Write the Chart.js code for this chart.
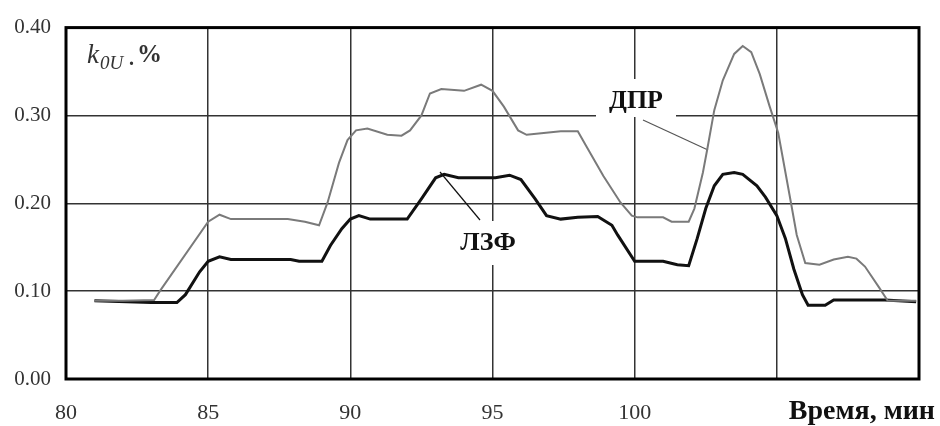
<!DOCTYPE html>
<html>
<head>
<meta charset="utf-8">
<script src="https://cdn.jsdelivr.net/npm/chart.js@4.4.1/dist/chart.umd.min.js"></script>
<style>
  html, body { margin: 0; padding: 0; background: #fff; }
  #wrap { position: relative; width: 940px; height: 426px; }
</style>
</head>
<body>
<div id="wrap"><canvas id="chart" width="940" height="426"></canvas></div>
<script>
// Time axis ticks (min)
const timeTicks = [80, 85, 90, 95, 100, 105, 110];
const valueTicks = [0, 0.1, 0.2, 0.3, 0.4];

// ДПР series (grey)
const dprTime = [81.0, 82.0, 83.1, 83.3, 85.0, 85.4, 85.8, 87.8, 88.4, 88.9, 89.2, 89.6, 89.9, 90.2, 90.6,
  91.3, 91.8, 92.1, 92.5, 92.8, 93.2, 94.0, 94.6, 95.0, 95.4, 95.9, 96.2, 96.8, 97.4, 98.0, 98.3, 98.9,
  99.5, 99.9, 100.1, 101.0, 101.3, 101.9, 102.1, 102.4, 102.55, 102.8, 103.1, 103.5, 103.8, 104.1, 104.4,
  104.75, 105.05, 105.5, 105.7, 106.0, 106.5, 107.0, 107.5, 107.8, 108.1, 108.6, 108.9, 109.9];
const dprValue = [0.089, 0.089, 0.090, 0.100, 0.179, 0.187, 0.182, 0.182, 0.179, 0.175, 0.201, 0.246, 0.272, 0.283, 0.285,
  0.278, 0.277, 0.283, 0.300, 0.325, 0.330, 0.328, 0.335, 0.328, 0.310, 0.283, 0.278, 0.280, 0.282, 0.282, 0.265, 0.231,
  0.201, 0.186, 0.184, 0.184, 0.179, 0.179, 0.194, 0.235, 0.261, 0.306, 0.340, 0.370, 0.379, 0.372, 0.347,
  0.310, 0.280, 0.200, 0.164, 0.132, 0.130, 0.136, 0.139, 0.137, 0.128, 0.104, 0.089, 0.089];

// ЛЗФ series (black)
const lzfTime = [81.0, 83.0, 83.9, 84.2, 84.7, 85.0, 85.4, 85.8, 87.9, 88.2, 89.0, 89.3, 89.7, 90.0, 90.3,
  90.7, 92.0, 92.5, 93.0, 93.3, 93.8, 95.1, 95.6, 96.0, 96.5, 96.9, 97.4, 98.0, 98.7, 99.2, 99.4, 100.0,
  101.0, 101.5, 101.9, 102.2, 102.5, 102.8, 103.1, 103.5, 103.8, 104.3, 104.6, 105.0, 105.3, 105.6, 105.9,
  106.1, 106.7, 107.0, 108.8, 109.9];
const lzfValue = [0.089, 0.087, 0.087, 0.096, 0.122, 0.134, 0.139, 0.136, 0.136, 0.134, 0.134, 0.152, 0.171, 0.182, 0.186,
  0.182, 0.182, 0.205, 0.229, 0.233, 0.229, 0.229, 0.232, 0.227, 0.205, 0.186, 0.182, 0.184, 0.185, 0.175, 0.164, 0.134,
  0.134, 0.130, 0.129, 0.160, 0.194, 0.220, 0.233, 0.235, 0.233, 0.220, 0.207, 0.186, 0.160, 0.125, 0.096,
  0.084, 0.084, 0.090, 0.090, 0.088];

const serif = '"Liberation Serif", "Times New Roman", serif';

function toPoints(xs, ys) {
  return xs.map((x, i) => ({ x: x, y: ys[i] }));
}

// Labels, leader lines, frame
const decorations = {
  id: 'decorations',
  beforeDatasetsDraw(chart) {
    const ctx = chart.ctx;
    ctx.save();
    // white boxes behind labels (they cut the grid)
    ctx.fillStyle = '#fff';
    ctx.fillRect(596, 79, 80, 38);
    ctx.fillRect(452, 221, 72, 44);
    // leader lines
    ctx.strokeStyle = '#555';
    ctx.lineWidth = 1.2;
    ctx.beginPath();
    ctx.moveTo(643, 120);
    ctx.lineTo(708, 150);
    ctx.stroke();
    ctx.strokeStyle = '#111';
    ctx.beginPath();
    ctx.moveTo(440, 172);
    ctx.lineTo(480, 220);
    ctx.stroke();
    ctx.restore();
  },
  afterDraw(chart) {
    const ctx = chart.ctx;
    const a = chart.chartArea;
    ctx.save();
    // frame
    ctx.strokeStyle = '#000';
    ctx.lineWidth = 3;
    ctx.strokeRect(a.left, a.top, a.right - a.left, a.bottom - a.top);

    ctx.fillStyle = '#111';
    ctx.textBaseline = 'middle';
    ctx.textAlign = 'center';
    ctx.font = 'bold 26px ' + serif;
    ctx.fillText('ДПР', 636, 101);
    ctx.fillText('ЛЗФ', 488, 243);

    // axis title at the right of the tick row
    ctx.textAlign = 'right';
    ctx.font = 'bold 28px ' + serif;
    ctx.fillText('Время, мин', 935, 412);

    // y axis name k0U ,%
    ctx.fillStyle = '#333';
    ctx.textAlign = 'left';
    ctx.textBaseline = 'alphabetic';
    ctx.font = 'italic 27px ' + serif;
    ctx.fillText('k', 87, 63);
    ctx.font = 'italic 19px ' + serif;
    ctx.fillText('0U', 100, 69);
    ctx.font = 'bold 20px ' + serif;
    ctx.fillText('.', 129, 65);
    ctx.font = 'bold 25px ' + serif;
    ctx.fillText('%', 137, 62);
    ctx.restore();
  }
};

new Chart(document.getElementById('chart').getContext('2d'), {
  type: 'line',
  data: {
    datasets: [
      {
        label: 'ДПР',
        data: toPoints(dprTime, dprValue),
        borderColor: '#7a7a7a',
        borderWidth: 2,
        pointRadius: 0,
        tension: 0,
        fill: false
      },
      {
        label: 'ЛЗФ',
        data: toPoints(lzfTime, lzfValue),
        borderColor: '#111',
        borderWidth: 3,
        pointRadius: 0,
        tension: 0,
        fill: false
      }
    ]
  },
  options: {
    responsive: false,
    animation: false,
    events: [],
    layout: { padding: { left: 0, top: 22, right: 18, bottom: 0 } },
    plugins: {
      legend: { display: false },
      tooltip: { enabled: false }
    },
    scales: {
      x: {
        type: 'linear',
        min: timeTicks[0],
        max: timeTicks[timeTicks.length - 1],
        afterBuildTicks(scale) {
          scale.ticks = timeTicks.map(v => ({ value: v }));
        },
        afterFit(scale) { scale.height = 47; },
        grid: { color: '#333', lineWidth: 1.5, drawTicks: false },
        border: { display: false },
        ticks: {
          padding: 21,
          color: '#333',
          font: { family: serif, size: 22 },
          maxRotation: 0,
          callback: v => (v >= 105 ? '' : String(v))
        }
      },
      y: {
        min: valueTicks[0],
        max: valueTicks[valueTicks.length - 1],
        afterBuildTicks(scale) {
          scale.ticks = valueTicks.map(v => ({ value: v }));
        },
        afterFit(scale) { scale.width = 66; },
        grid: { color: '#333', lineWidth: 1.5, drawTicks: false },
        border: { display: false },
        ticks: {
          padding: 15,
          color: '#333',
          font: { family: serif, size: 21 },
          callback: v => v.toFixed(2)
        }
      }
    }
  },
  plugins: [decorations]
});
</script>
</body>
</html>
